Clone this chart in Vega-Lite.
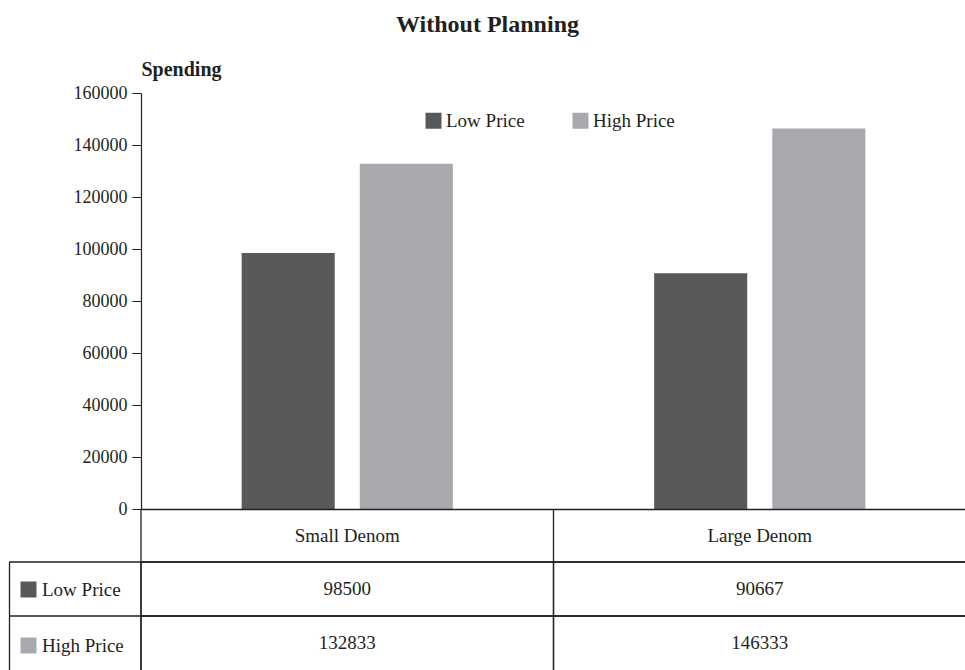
{
  "$schema": "https://vega.github.io/schema/vega-lite/v6.json",
  "padding": {"left": 8, "top": 13, "right": 0, "bottom": 0},
  "title": {
    "text": "Without Planning",
    "font": "Liberation Serif",
    "fontSize": 24,
    "fontWeight": "bold",
    "color": "#231f20",
    "anchor": "middle",
    "offset": 22
  },
  "config": {
    "view": {"stroke": null},
    "font": "Liberation Serif",
    "axis": {"labelFont": "Liberation Serif", "titleFont": "Liberation Serif"},
    "legend": {"labelFont": "Liberation Serif"},
    "rule": {"stroke": "#231f20", "strokeWidth": 1.3},
    "text": {"fontSize": 19, "color": "#231f20"}
  },
  "datasets": {
    "spending": [
      {"denom": "Small Denom", "price": "Low Price", "spending": 98500},
      {"denom": "Small Denom", "price": "High Price", "spending": 132833},
      {"denom": "Large Denom", "price": "Low Price", "spending": 90667},
      {"denom": "Large Denom", "price": "High Price", "spending": 146333}
    ]
  },
  "data": {"name": "spending"},
  "columns": 2,
  "align": "each",
  "bounds": "flush",
  "spacing": 0,
  "resolve": {
    "scale": {"x": "independent", "y": "independent", "color": "shared"},
    "legend": {"color": "independent"}
  },
  "concat": [
    {
      "width": 132,
      "height": 416,
      "data": {"values": []},
      "mark": {"type": "point"},
      "encoding": {}
    },
    {
      "width": 825,
      "height": 416,
      "mark": {"type": "bar"},
      "encoding": {
        "x": {
          "field": "denom",
          "type": "nominal",
          "sort": ["Small Denom", "Large Denom"],
          "scale": {"paddingInner": 0.488, "paddingOuter": 0.244},
          "axis": null
        },
        "xOffset": {
          "field": "price",
          "type": "nominal",
          "sort": ["Low Price", "High Price"],
          "scale": {"paddingInner": 0.212, "paddingOuter": 0}
        },
        "y": {
          "field": "spending",
          "type": "quantitative",
          "scale": {"domain": [0, 160000], "nice": false},
          "axis": {
            "title": "Spending",
            "titleAngle": 0,
            "titleAlign": "left",
            "titleBaseline": "alphabetic",
            "titleX": 0,
            "titleY": -18,
            "titleFontSize": 20,
            "titleFontWeight": "bold",
            "titleColor": "#231f20",
            "values": [0, 20000, 40000, 60000, 80000, 100000, 120000, 140000, 160000],
            "format": "d",
            "grid": false,
            "tickSize": 9,
            "tickColor": "#231f20",
            "domainColor": "#231f20",
            "domainWidth": 1.2,
            "labelPadding": 5,
            "labelFontSize": 18,
            "labelColor": "#231f20"
          }
        },
        "color": {
          "field": "price",
          "type": "nominal",
          "scale": {"domain": ["Low Price", "High Price"], "range": ["#58595b", "#a7a9ac"]},
          "legend": {
            "orient": "none",
            "legendX": 283,
            "legendY": 18,
            "direction": "horizontal",
            "title": null,
            "padding": 0,
            "symbolType": "square",
            "symbolSize": 256,
            "symbolStrokeWidth": 0,
            "labelFontSize": 19,
            "labelColor": "#231f20",
            "labelOffset": 3,
            "columnPadding": 46
          }
        }
      }
    },
    {
      "width": 132,
      "height": 53,
      "data": {"values": []},
      "mark": {"type": "point"},
      "encoding": {}
    },
    {
      "width": 825,
      "height": 53,
      "transform": [
        {"aggregate": [{"op": "count", "as": "n"}], "groupby": ["denom"]}
      ],
      "encoding": {
        "x": {
          "field": "denom",
          "type": "nominal",
          "sort": ["Small Denom", "Large Denom"],
          "scale": {"paddingInner": 0, "paddingOuter": 0},
          "axis": {
            "orient": "top",
            "title": null,
            "labels": false,
            "ticks": false,
            "domain": true,
            "domainColor": "#231f20",
            "domainWidth": 1.3
          }
        }
      },
      "layer": [
        {
          "mark": {"type": "rule"},
          "encoding": {"x": {"field": "denom", "type": "nominal", "bandPosition": 0}}
        },
        {
          "mark": {"type": "text"},
          "encoding": {"text": {"field": "denom", "type": "nominal"}}
        }
      ]
    },
    {
      "width": 132,
      "height": 108,
      "transform": [
        {"aggregate": [{"op": "count", "as": "n"}], "groupby": ["price"]}
      ],
      "encoding": {
        "y": {
          "field": "price",
          "type": "nominal",
          "sort": ["Low Price", "High Price"],
          "scale": {"paddingInner": 0, "paddingOuter": 0},
          "axis": {
            "title": null,
            "labels": false,
            "ticks": false,
            "domain": true,
            "domainColor": "#231f20",
            "domainWidth": 1.3
          }
        }
      },
      "layer": [
        {
          "mark": {"type": "rule"},
          "encoding": {"y": {"field": "price", "type": "nominal", "sort": ["Low Price", "High Price"], "bandPosition": 0}}
        },
        {
          "mark": {"type": "square", "size": 0},
          "encoding": {
            "color": {
              "field": "price",
              "type": "nominal",
              "legend": {
                "orient": "none",
                "legendX": 10,
                "legendY": 18,
                "direction": "vertical",
                "title": null,
                "padding": 0,
                "symbolType": "square",
                "symbolSize": 256,
                "symbolStrokeWidth": 0,
                "symbolOpacity": 1,
                "labelFontSize": 19,
                "labelColor": "#231f20",
                "labelOffset": 4,
                "rowPadding": 36
              }
            }
          }
        }
      ]
    },
    {
      "width": 825,
      "height": 108,
      "encoding": {
        "x": {
          "field": "denom",
          "type": "nominal",
          "sort": ["Small Denom", "Large Denom"],
          "scale": {"paddingInner": 0, "paddingOuter": 0},
          "axis": null
        },
        "y": {
          "field": "price",
          "type": "nominal",
          "sort": ["Low Price", "High Price"],
          "scale": {"paddingInner": 0, "paddingOuter": 0},
          "axis": null
        }
      },
      "layer": [
        {
          "mark": {"type": "rule"},
          "encoding": {
            "x": null,
            "y": {"field": "price", "type": "nominal", "sort": ["Low Price", "High Price"], "bandPosition": 0}
          }
        },
        {
          "mark": {"type": "rule"},
          "encoding": {
            "y": null,
            "x": {"field": "denom", "type": "nominal", "sort": ["Small Denom", "Large Denom"], "bandPosition": 0}
          }
        },
        {
          "mark": {"type": "text"},
          "encoding": {"text": {"field": "spending", "type": "quantitative", "format": "d"}}
        }
      ]
    }
  ]
}
